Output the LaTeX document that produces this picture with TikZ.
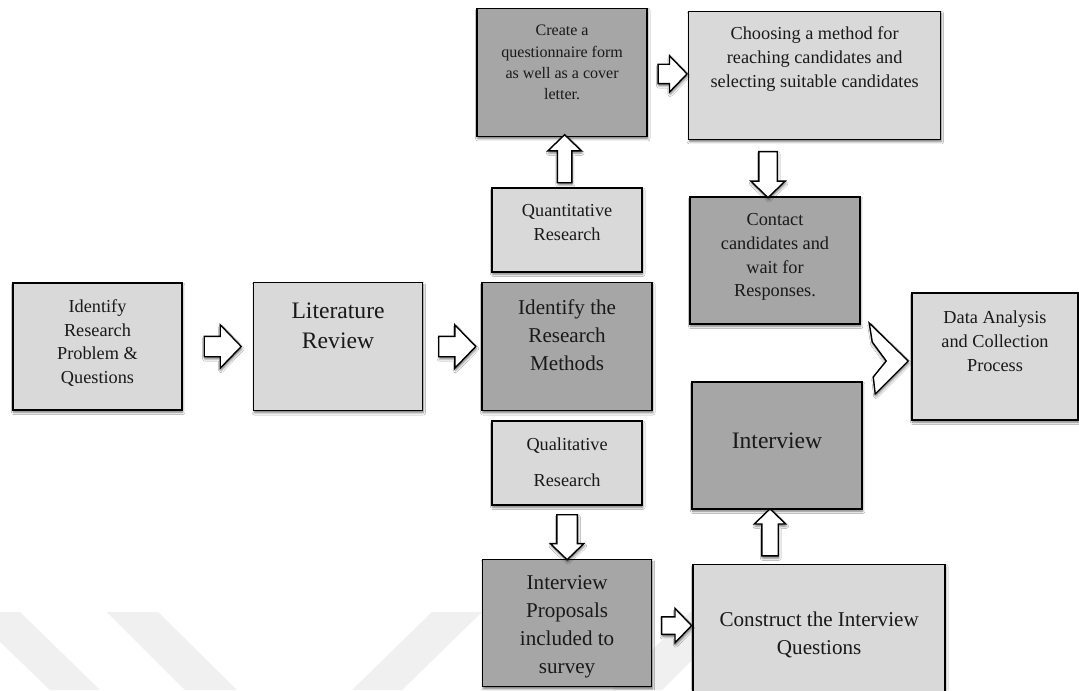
\documentclass[tikz,border=0pt]{standalone}
\usepackage{fontspec}
\setmainfont{Liberation Serif}
\usetikzlibrary{positioning}
\usetikzlibrary{calc}
\usetikzlibrary{shapes.arrows}
\usetikzlibrary{shadows.blur}
\definecolor{boxlight}{HTML}{D9D9D9}
\definecolor{boxdark}{HTML}{A6A6A6}
\definecolor{wmark}{HTML}{F0F0F0}

\begin{document}
\begin{tikzpicture}[x=0.25mm, y=-0.25mm,
	shade/.style={blur shadow={shadow xshift=0.5pt, shadow yshift=-1.6pt, shadow blur radius=1.6pt, shadow opacity=55}},
	box/.style={draw=black, line width=1.1pt, inner sep=0pt, shade},
	light/.style={box, fill=boxlight},
	dark/.style={box, fill=boxdark},
	txt/.style={align=center, inner sep=0pt, text=black!90},
	smalltxt/.style={txt, font=\fontsize{13}{17}\selectfont},
	notetxt/.style={txt, font=\fontsize{11.4}{15}\selectfont},
	spacedtxt/.style={txt, font=\fontsize{13}{26}\selectfont},
	midtxt/.style={txt, font=\fontsize{15}{20}\selectfont},
	bigtxt/.style={txt, font=\fontsize{16.8}{21.3}\selectfont},
	barrow/.style n args={3}{single arrow, draw=black, fill=white, line width=1pt,
		inner sep=0pt, minimum height=#1, text height=#2, text depth=0pt,
		single arrow head extend=#3, single arrow tip angle=92, shade},
	chev/.style={draw=black, fill=white, line width=1pt, line join=miter, shade}
]
\path[use as bounding box, fill=white] (0,0) rectangle (1079,690);

% watermark
\fill[wmark] (-31,612) -- (20,612) -- (100,690) -- (50,690) -- cycle;
\fill[wmark] (107,612) -- (158,612) -- (237,690) -- (185,690) -- cycle;
\fill[wmark] (432,612) -- (482,612) -- (402,690) -- (352,690) -- cycle;
\fill[wmark] (690,612) -- (740,612) -- (662,690) -- (612,690) -- cycle;

\node[light, minimum width=42.25mm, minimum height=31.75mm] (idq) at (97.5,346.5) {};
\node[light, minimum width=42.25mm, minimum height=32mm, right=17.5mm of idq] (lit) {};
\node[dark, minimum width=42.5mm, minimum height=32mm, right=14.5mm of lit] (meth) {};

\node[light, minimum width=37.5mm, minimum height=21mm, above=2.25mm of meth] (quan) {};
\node[dark, minimum width=42.5mm, minimum height=32mm, above=13.25mm of quan, xshift=-1.25mm, yshift=-0.75mm] (create) {};
\node[light, minimum width=63mm, minimum height=32mm, right=10mm of create, yshift=-0.75mm] (choose) {};
\node[dark, minimum width=42.5mm, minimum height=31.75mm] (contact) at (775,260.5) {};

\node[light, minimum width=37.5mm, minimum height=21mm, below=2.25mm of meth] (qual) {};
\node[dark, minimum width=42.25mm, minimum height=31.75mm, below=13.25mm of qual] (prop) {};
\node[light, minimum width=63mm, minimum height=31.75mm, right=10mm of prop, yshift=-1.25mm] (cons) {};
\node[dark, minimum width=42.5mm, minimum height=31.75mm] (intv) at (777,445.5) {};

\node[light, minimum width=41.5mm, minimum height=31.75mm] (data) at (995,356.5) {};

\node[smalltxt] (idq-t) at ($(idq)+(0,-3.5)$) {Identify\\Research\\Problem \&\\Questions};
\node[bigtxt] (lit-t) at ($(lit)+(0,-21)$) {Literature\\Review};
\node[midtxt] (meth-t) at ($(meth)+(0,-11)$) {Identify the\\Research\\Methods};
\node[smalltxt] (quan-t) at ($(quan)+(0,-7)$) {Quantitative\\Research};
\node[notetxt] (create-t) at ($(create)+(0,-10)$) {Create a\\questionnaire form\\as well as a cover\\letter.};
\node[smalltxt] (choose-t) at ($(choose)+(0,-16)$) {Choosing a method for\\reaching candidates and\\selecting suitable candidates};
\node[smalltxt] (contact-t) at ($(contact)+(0,-3.5)$) {Contact\\candidates and\\wait for\\Responses.};
\node[smalltxt] (data-t) at ($(data)+(0,-15.5)$) {Data Analysis\\and Collection\\Process};
\node[bigtxt] (intv-t) at ($(intv)+(0,-4.5)$) {Interview};
\node[spacedtxt] (qual-t) at ($(qual)+(0,-1)$) {Qualitative\\Research};
\node[midtxt] (prop-t) at ($(prop)+(0,3.5)$) {Interview\\Proposals\\included to\\survey};
\node[midtxt] (cons-t) at ($(cons)+(0,6.5)$) {Construct the Interview\\Questions};

\node[barrow={9.25mm}{4.75mm}{2.875mm}] (a1) at ($(idq.east)!.5!(lit.west)$) {};
\node[barrow={9.25mm}{4.75mm}{2.875mm}] (a2) at ($(lit.east)!.5!(meth.west)$) {};
\node[barrow={12mm}{3.25mm}{2.375mm}, rotate=90] (a3) at ($(quan.north)!.5!(create.south)$) {};
\node[barrow={7.25mm}{4.5mm}{2.125mm}] (a4) at ($(create.east)!.5!(choose.west)$) {};
\node[barrow={11.5mm}{4.25mm}{2mm}, rotate=-90] (a5) at ($(contact.north)+(-7,-26)$) {};
\node[barrow={11.25mm}{4.75mm}{1.625mm}, rotate=-90] (a7) at ($(qual.south)!.5!(prop.north)$) {};
\node[barrow={7.5mm}{4mm}{2.125mm}] (a8) at ($(prop.east)!.5!(cons.west)$) {};
\node[barrow={11.75mm}{3.75mm}{1.875mm}, rotate=90] (a9) at ($(intv.south)+(-7,26.5)$) {};

\draw[chev, shift={(data.west)}] (-42,-33.5) -- (-3,4.5) -- (-36,37.5) -- (-38,20.5) -- (-25,4.5) -- (-39,-14.5) -- cycle;
\end{tikzpicture}
\end{document}
